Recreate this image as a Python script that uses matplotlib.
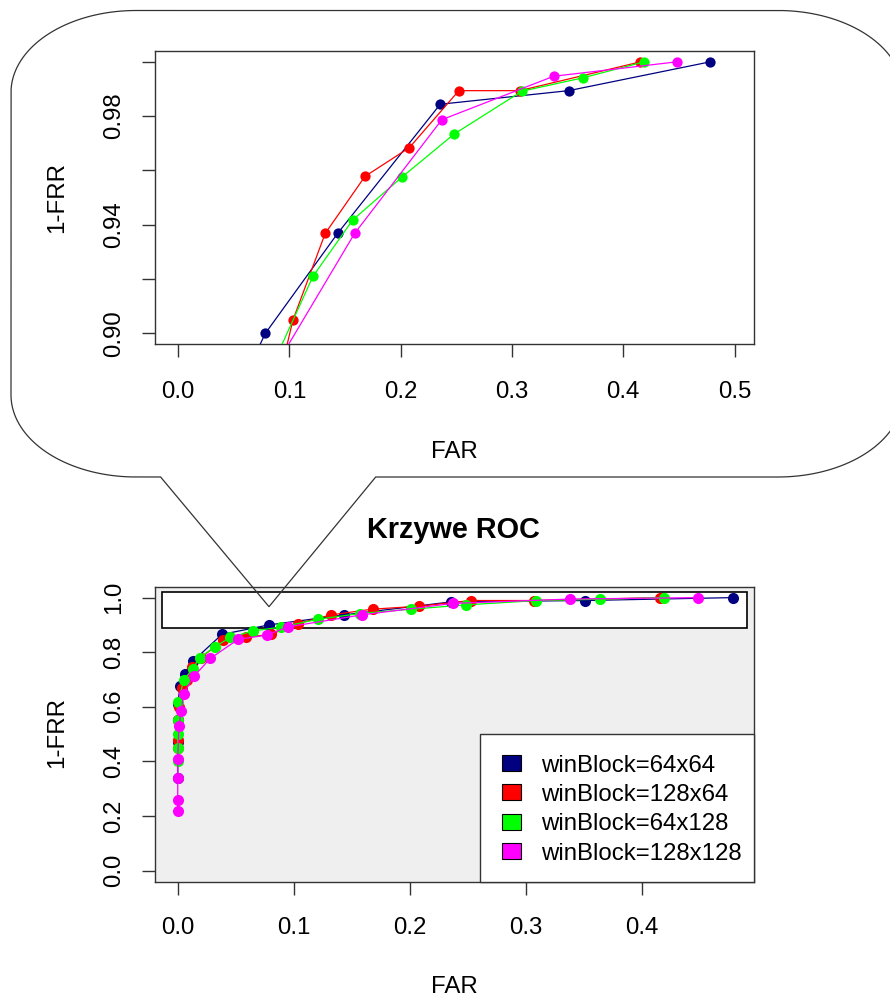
import matplotlib
matplotlib.use('Agg')
import matplotlib.pyplot as plt
from matplotlib.path import Path
from matplotlib.patches import PathPatch, Rectangle
import matplotlib.transforms as mtransforms
import numpy as np

plt.rcParams['font.family'] = ['Liberation Sans', 'DejaVu Sans']

# ---------------- data ----------------
series_names = ["winBlock=64x64", "winBlock=128x64", "winBlock=64x128", "winBlock=128x128"]
series_colors = ["#000080", "#FF0000", "#00FF00", "#FF00FF"]

far_64x64 = [0.000, 0.000, 0.000, 0.000, 0.002, 0.006, 0.013, 0.038, 0.0784, 0.1433, 0.2356, 0.351, 0.478]
tpr_64x64 = [0.340, 0.470, 0.550, 0.612, 0.675, 0.720, 0.767, 0.865, 0.900, 0.9368, 0.9844, 0.9894, 1.000]

far_128x64 = [0.000, 0.000, 0.000, 0.001, 0.004, 0.008, 0.012, 0.020, 0.039, 0.059, 0.080, 0.1033, 0.1322, 0.1679, 0.2078, 0.2523, 0.307, 0.4155]
tpr_128x64 = [0.450, 0.480, 0.550, 0.600, 0.670, 0.700, 0.746, 0.780, 0.844, 0.855, 0.865, 0.905, 0.9368, 0.9578, 0.9684, 0.9894, 0.9894, 1.000]

far_64x128 = [0.000, 0.000, 0.000, 0.000, 0.0005, 0.005, 0.013, 0.019, 0.032, 0.045, 0.065, 0.089, 0.1212, 0.157, 0.2013, 0.248, 0.309, 0.3635, 0.4187]
tpr_64x128 = [0.400, 0.450, 0.500, 0.550, 0.617, 0.697, 0.740, 0.780, 0.820, 0.854, 0.878, 0.892, 0.921, 0.9418, 0.9576, 0.9734, 0.9892, 0.9941, 1.000]

far_128x128 = [0.000, 0.000, 0.000, 0.000, 0.001, 0.003, 0.005, 0.014, 0.028, 0.052, 0.077, 0.095, 0.1586, 0.237, 0.3375, 0.448]
tpr_128x128 = [0.220, 0.260, 0.340, 0.410, 0.530, 0.586, 0.648, 0.712, 0.777, 0.847, 0.863, 0.893, 0.9368, 0.9787, 0.9947, 1.000]

fars = [far_64x64, far_128x64, far_64x128, far_128x128]
tprs = [tpr_64x64, tpr_128x64, tpr_64x128, tpr_128x128]

main_xticks = [0.0, 0.1, 0.2, 0.3, 0.4]
main_xlabels = ["0.0", "0.1", "0.2", "0.3", "0.4"]
main_yticks = [0.0, 0.2, 0.4, 0.6, 0.8, 1.0]
main_ylabels = ["0.0", "0.2", "0.4", "0.6", "0.8", "1.0"]
inset_xticks = [0.0, 0.1, 0.2, 0.3, 0.4, 0.5]
inset_xlabels = ["0.0", "0.1", "0.2", "0.3", "0.4", "0.5"]
inset_yticks = [0.90, 0.92, 0.94, 0.96, 0.98, 1.00]
inset_ylabels = ["0.90", "", "0.94", "", "0.98", ""]

title = "Krzywe ROC"
xlab = "FAR"
ylab = "1-FRR"

# ---------------- layout ----------------
W, H = 890, 999
fig = plt.figure(figsize=(8.9, 9.99), dpi=100)
FS = 17.3

def fx(x):
    return x / W

def fy(y):
    return 1 - y / H

def add_axes(left, top, right, bottom):
    return fig.add_axes([fx(left), fy(bottom), (right - left) / W, (bottom - top) / H])

main = add_axes(155, 586.7, 754, 881.5)
inset = add_axes(155, 51, 754, 344.3)

main.set_facecolor("#efefef")
main.set_xlim(-0.0196, 0.4964)
main.set_ylim(-0.04, 1.04)
inset.set_xlim(-0.0207, 0.5175)
inset.set_ylim(0.896, 1.004)

# zoom rectangle in main plot
main.add_patch(Rectangle((-0.0132, 0.887), 0.5032, 0.135, facecolor="white",
                         edgecolor="black", linewidth=1.2, zorder=1.5))

for ax, ms in ((main, 8.0), (inset, 7.4)):
    for f, t, c in zip(fars, tprs, series_colors):
        ax.plot(f, t, color=c, linewidth=0.9, marker="o", markersize=ms,
                markeredgewidth=0, zorder=3)


def style(ax, xt, xl, yt, yl, xlab_base, xtitle_base, ycenter):
    ax.set_xticks(xt)
    ax.set_yticks(yt)
    ax.set_xticklabels([])
    ax.set_yticklabels([])
    ax.tick_params(direction="out", length=9.4, width=1.0, color="#333333")
    for s in ax.spines.values():
        s.set_linewidth(1.0)
        s.set_color("#333333")
    tx = mtransforms.blended_transform_factory(ax.transData, fig.transFigure)
    ty = mtransforms.blended_transform_factory(fig.transFigure, ax.transData)
    for v, lab in zip(xt, xl):
        ax.text(v, fy(xlab_base), lab, transform=tx, ha="center", va="baseline",
                fontsize=FS, clip_on=False)
    for v, lab in zip(yt, yl):
        if lab:
            ax.text(fx(120), v, lab, transform=ty, ha="center", va="baseline",
                    rotation=90, rotation_mode="anchor", fontsize=FS, clip_on=False)
    fig.text(fx(454.5), fy(xtitle_base), xlab, ha="center", va="baseline", fontsize=FS)
    fig.text(fx(63.5), fy(ycenter), ylab, ha="center", va="baseline", rotation=90,
             rotation_mode="anchor", fontsize=FS)

style(main, main_xticks, main_xlabels, main_yticks, main_ylabels, 933.6, 993.3, 732.5)
style(inset, inset_xticks, inset_xlabels, inset_yticks, inset_ylabels, 398, 458, 197.5)

fig.text(fx(453.5), fy(538.5), title, ha="center", va="baseline", fontsize=FS * 1.2,
         fontweight="bold")

# ---------------- legend ----------------
fig.add_artist(Rectangle((fx(480), fy(881.5)), (754 - 480) / W, (881.5 - 734) / H,
                         transform=fig.transFigure, facecolor="white",
                         edgecolor="#333333", linewidth=1.0, zorder=5))
row_centers = [763, 792.3, 821.5, 850.8]
for name, c, yc in zip(series_names, series_colors, row_centers):
    fig.add_artist(Rectangle((fx(501.7), fy(yc + 8)), 19 / W, 16 / H,
                             transform=fig.transFigure, facecolor=c,
                             edgecolor="black", linewidth=0.8, zorder=6))
    t = fig.text(fx(540.7), fy(yc + 8.8), name, ha="left", va="baseline", fontsize=FS)
    t.set_zorder(6)

# ---------------- speech bubble ----------------
def arc(cx, cy, rx, ry, a0, a1, n=40):
    a = np.radians(np.linspace(a0, a1, n))
    return list(zip(cx + rx * np.cos(a), cy - ry * np.sin(a)))

L, R, T, B = 11, 903, 10.5, 477
rx, ry = 125, 82
pts = []
pts += [(L + rx, T), (R - rx, T)]
pts += arc(R - rx, T + ry, rx, ry, 90, 0)
pts += [(R, B - ry)]
pts += arc(R - rx, B - ry, rx, ry, 0, -90)
pts += [(375.7, B), (269, 606.7), (160.6, B)]
pts += arc(L + rx, B - ry, rx, ry, -90, -180)
pts += [(L, T + ry)]
pts += arc(L + rx, T + ry, rx, ry, 180, 90)
verts = [(fx(x), fy(y)) for x, y in pts]
bubble = PathPatch(Path(verts), transform=fig.transFigure, fill=False,
                   edgecolor="#333333", linewidth=0.9, zorder=10)
fig.add_artist(bubble)

fig.savefig("out.png", dpi=100)
